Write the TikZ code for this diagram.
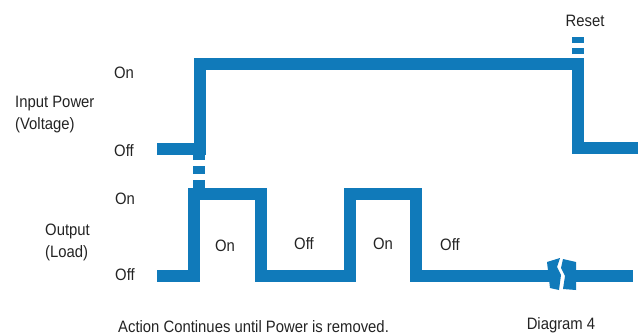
\documentclass[tikz,border=0pt]{standalone}
\usepackage{fontspec}
\setmainfont{Liberation Sans}[FakeStretch=0.9]
\usetikzlibrary{positioning}
\definecolor{signalBlue}{RGB}{16,122,186}
\definecolor{labelGray}{RGB}{35,35,35}
\tikzset{
    % Style for the thick signal traces
    signal line/.style={
        draw=signalBlue,
        line width=11.5pt,
        line join=miter,
        line cap=butt
    },
    % Style for the dashed links between traces
    dash link/.style={
        signal line,
        dash pattern=on 8pt off 6pt
    },
    % Style for all text labels
    level label/.style={
        font=\fontsize{16.5}{19}\selectfont,
        text=labelGray,
        inner sep=0pt
    }
}

\begin{document}
\begin{tikzpicture}[x=1pt,y=-1pt]

% Set the canvas size
\path[use as bounding box] (0,0) rectangle (638,335);

% Input power trace
\draw[signal line] (157,149) -- (200,149) -- (200,64) -- (578,64) -- (578,148) -- (638,148);

% Dashed links
\draw[dash link] (199,188) -- (199,155);
\draw[signal line, dash pattern=on 6pt off 5pt] (578,54) -- (578,37);

% Output trace
\draw[signal line] (157,276) -- (194,276) -- (194,194) -- (261,194) -- (261,276)
    -- (350,276) -- (350,194) -- (416,194) -- (416,276) -- (552,276);
\draw[signal line] (573,276) -- (633,276);

% Break mark
\fill[signalBlue] (547,262) -- (560,258) -- (557,267) -- (561,275) -- (559,290) -- (550,288) -- cycle;
\fill[signalBlue] (563,259) -- (576,262) -- (576,290) -- (563,289) -- (565,276) -- (561,268) -- cycle;

% Level labels
\node[level label, anchor=base] (inOn) at (124,78) {On};
\node[level label, anchor=base] (inOff) at (124,156) {Off};
\node[level label, anchor=base] (outOn) at (125,204) {On};
\node[level label, anchor=base] (outOff) at (125,280) {Off};

% Trace names
\node[level label, anchor=base west] (inName) at (15,107) {Input Power};
\node[level label, anchor=base west] (inUnit) at (15,129) {(Voltage)};
\node[level label, anchor=base west] (outName) at (45,235) {Output};
\node[level label, anchor=base west] (outUnit) at (45,257) {(Load)};

% State labels inside the output trace
\node[level label, anchor=base] (stateA) at (225,251) {On};
\node[level label, anchor=base] (stateB) at (304,249) {Off};
\node[level label, anchor=base] (stateC) at (383,249) {On};
\node[level label, anchor=base] (stateD) at (450,250) {Off};

% Reset and captions
\node[level label, anchor=base] (reset) at (585,26) {Reset};
\node[level label, anchor=base west] (caption) at (118,332) {Action Continues until Power is removed.};
\node[level label, anchor=base] (diagram) at (561,329) {Diagram 4};

\end{tikzpicture}
\end{document}
